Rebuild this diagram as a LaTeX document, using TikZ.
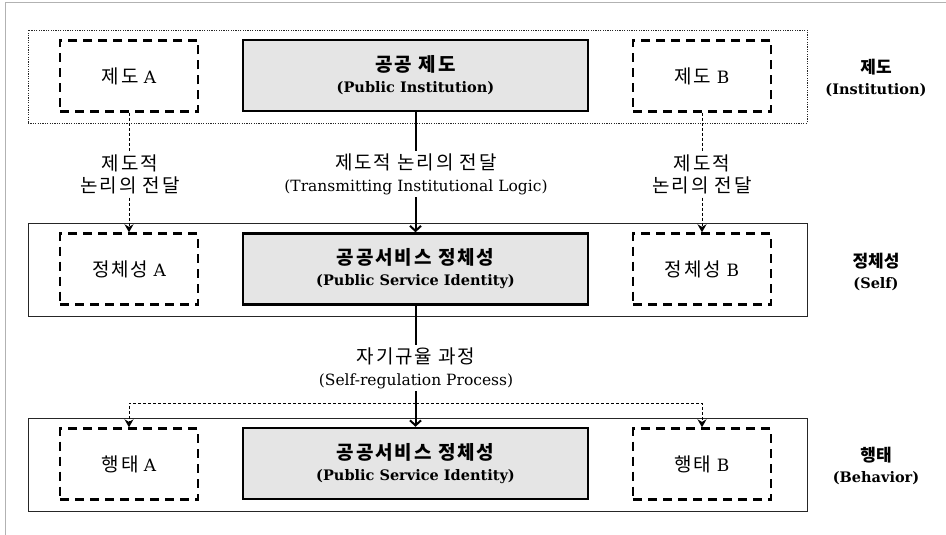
\documentclass[tikz,border=0pt]{standalone}
\usepackage{fontspec}
\setmainfont{DejaVu Serif}
\newfontfamily\kor{Noto Sans CJK KR}[LetterSpace=10]
\newfontfamily\korplain{Noto Sans CJK KR}
\usepackage{tikz}
\usetikzlibrary{calc, positioning, arrows, arrows.meta}
\newcommand{\kr}[1]{{\kor\fontsize{19}{22}\selectfont #1}}
\newcommand{\krs}[1]{{\korplain\fontsize{17}{21}\selectfont #1}}
\tikzstyle{layer}=[draw=black!85, shape=rectangle, minimum width=779pt, minimum height=93pt, line width=1pt]
\tikzstyle{dbox}=[draw, shape=rectangle, minimum width=138pt, minimum height=71pt, line width=2.4pt, dash pattern=on 9pt off 6pt, font=\fontsize{17}{22}\selectfont]
\tikzstyle{mainbox}=[draw, shape=rectangle, fill=gray!20, minimum width=345pt, minimum height=71pt, line width=2.5pt, align=center, font=\bfseries\fontsize{14.5}{21}\selectfont]
\tikzstyle{lbl}=[fill=white, align=center, inner sep=2pt, font=\fontsize{15.5}{22}\selectfont]
\tikzstyle{side}=[align=center, font=\bfseries\fontsize{14.5}{21}\selectfont]
\tikzstyle{dline}=[line width=1pt, dash pattern=on 3pt off 2pt]
\tikzstyle{sline}=[line width=2pt, -{Straight Barb[length=5pt, width=11pt]}]
\tikzset{>={Stealth[length=8pt, width=9pt]}}

\begin{document}
\begin{tikzpicture}[x=1pt, y=-1pt]
\useasboundingbox (0,0) rectangle (946,535);
\draw[gray!60, line width=1pt] (5,535) -- (5,3) -- (946,3);
%
% the three levels
\node[layer, line width=0.7pt, dash pattern=on 1.2pt off 1.2pt] (instL) at (417.5,76.5) {};
\node[layer] (selfL) at (417.5,269.5) {};
\node[layer] (behL) at (417.5,465) {};
%
\foreach \y/\n/\lab in {76/inst/제도, 269/self/정체성, 464/beh/행태}
{
\node[dbox] (\n-A) at (129,\y) {\kr{\lab} A};
\node[dbox] (\n-B) at (702,\y) {\kr{\lab} B};
}
%
\node[mainbox] (instC) at (415.5,75.5) {\kr{공공 제도}\\(Public Institution)};
\node[mainbox] (selfC) at (415.5,269) {\kr{공공서비스 정체성}\\(Public Service Identity)};
\node[mainbox] (behC) at (415.5,463.5) {\kr{공공서비스 정체성}\\(Public Service Identity)};
%
\node[side] (instT) at (876,78) {\krs{제도}\\(Institution)};
\node[side] (selfT) at (876,272) {\krs{정체성}\\(Self)};
\node[side] (behT) at (876,466) {\krs{행태}\\(Behavior)};
%
% institution -> self
\draw[sline] (instC) -- (selfC);
\draw[dline, ->] (inst-A) -- (self-A);
\draw[dline, ->] (inst-B) -- (self-B);
\node[lbl] (logic) at (416,174) {\kr{제도적 논리의 전달}\\(Transmitting Institutional Logic)};
\node[lbl] (logicA) at (130,174) {\kr{제도적}\\\kr{논리의 전달}};
\node[lbl] (logicB) at (702,174) {\kr{제도적}\\\kr{논리의 전달}};
%
% self -> behavior
\draw[sline] (selfC) -- (behC);
\coordinate (split) at (416,403);
\draw[dline, ->] (split) -| (beh-A);
\draw[dline, ->] (split) -| (beh-B);
\node[lbl] (selfreg) at (416,368) {\kr{자기규율 과정}\\(Self-regulation Process)};
%
\end{tikzpicture}
\end{document}
